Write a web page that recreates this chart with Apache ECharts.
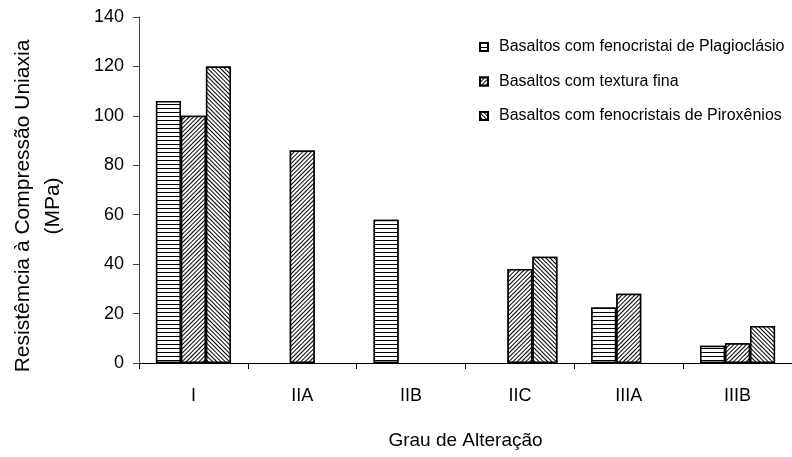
<!DOCTYPE html>
<html>
<head>
<meta charset="utf-8">
<script src="https://cdn.jsdelivr.net/npm/echarts@6/dist/echarts.min.js"></script>
<style>
    html, body { margin: 0; padding: 0; background: #fff; }
    #chart { width: 792px; height: 457px; }
</style>
</head>
<body>
<div id="chart"></div>
<script>
// grau de alteração
var categories = ["I", "IIA", "IIB", "IIC", "IIIA", "IIIB"];

// resistência à compressão uniaxial (MPa)
var plagioclasio = [106, null, 58, null, 22.5, 7];
var texturaFina = [100, 86, null, 38, 28, 8];
var piroxenios = [120, null, null, 43, null, 15];

var seriesNames = [
    "Basaltos com fenocristai de Plagioclásio",
    "Basaltos com textura fina",
    "Basaltos com fenocristais de Piroxênios"
];

var yTicks = [0, 20, 40, 60, 80, 100, 120, 140];

var font = "Liberation Sans, Arial, sans-serif";

function hatch(rot, gap) {
    return {
        symbol: "rect",
        symbolSize: 1,
        dashArrayX: [1, 0],
        dashArrayY: [1, gap],
        rotation: rot,
        color: "#000",
        backgroundColor: "#fff"
    };
}

function barSeries(name, data, decal) {
    return {
        name: name,
        type: "bar",
        data: data,
        barWidth: 25,
        barGap: "0%",
        itemStyle: {
            color: "#fff",
            borderColor: "#000",
            borderWidth: 1.5,
            decal: decal
        }
    };
}

var chart = echarts.init(document.getElementById("chart"), null, { renderer: "canvas" });

var option = {
    animation: false,
    backgroundColor: "#fff",
    aria: { enabled: false },
    grid: { left: 139, top: 17, width: 660, height: 346 },
    legend: {
        orient: "vertical",
        left: 479,
        top: 39,
        padding: 0,
        itemWidth: 8,
        itemHeight: 8,
        itemGap: 18.5,
        icon: "rect",
        data: seriesNames,
        textStyle: { fontFamily: font, fontSize: 16, color: "#000", padding: [0, 0, 0, 6] }
    },
    xAxis: {
        type: "category",
        data: categories,
        name: "Grau de Alteração",
        nameLocation: "middle",
        nameGap: 68,
        nameTextStyle: { fontFamily: font, fontSize: 19, color: "#000" },
        axisLine: { lineStyle: { color: "#000", width: 1 } },
        axisTick: { show: true, length: 6, lineStyle: { color: "#000" } },
        axisLabel: { fontFamily: font, fontSize: 18, color: "#000", margin: 24 }
    },
    yAxis: {
        type: "value",
        min: 0,
        max: 140,
        interval: 20,
        splitLine: { show: false },
        axisLine: { show: true, lineStyle: { color: "#444", width: 1 } },
        axisTick: { show: true, length: 6, lineStyle: { color: "#444" } },
        axisLabel: { fontFamily: font, fontSize: 18, color: "#000", margin: 15,
            customValues: yTicks }
    },
    graphic: [{
        type: "text",
        x: 38,
        y: 206,
        rotation: Math.PI / 2,
        style: {
            text: "Resistêmcia à Compressão Uniaxia\n(MPa)",
            align: "center",
            verticalAlign: "middle",
            font: "21px " + font,
            lineHeight: 30,
            fill: "#000"
        }
    }],
    series: [
        barSeries(seriesNames[0], plagioclasio, hatch(0, 2.5)),
        barSeries(seriesNames[1], texturaFina, hatch(-Math.PI / 4, 2)),
        barSeries(seriesNames[2], piroxenios, hatch(Math.PI / 4, 2))
    ]
};

chart.setOption(option);
</script>
</body>
</html>
